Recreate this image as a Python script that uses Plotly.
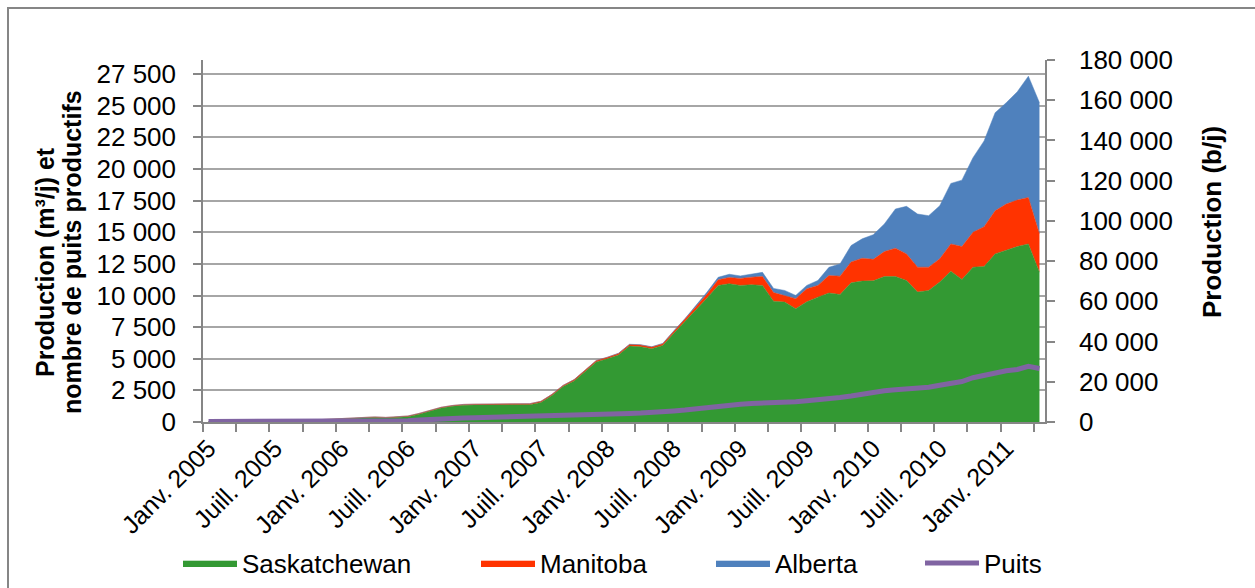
import plotly.graph_objects as go

# ---- categories (monthly, Jan 2005 - Apr 2011) ----
MOIS = ["Janv.", "Févr.", "Mars", "Avr.", "Mai", "Juin",
        "Juill.", "Août", "Sept.", "Oct.", "Nov.", "Déc."]
months = [f"{MOIS[m]} {y}" for y in range(2005, 2012) for m in range(12)][:76]

# ---- series (m3/d) ----
saskatchewan = [30, 30, 35, 40, 45, 50, 60, 70, 90, 130,
                180, 220, 260, 290, 320, 360, 320, 350, 420, 620,
                880, 1100, 1240, 1320, 1340, 1350, 1340, 1330, 1340, 1370,
                1550, 2100, 2800, 3250, 4000, 4750, 5000, 5300, 6000, 5950,
                5800, 6050, 7020, 7910, 8870, 9800, 10800, 10930, 10800, 10850,
                10800, 9550, 9480, 8960, 9500, 9870, 10200, 10080, 11000, 11140,
                11160, 11500, 11500, 11190, 10270, 10400, 11060, 11920, 11270, 12240,
                12290, 13290, 13610, 13870, 14080, 11840]
manitoba = [0, 0, 0, 0, 0, 0, 5, 10, 10, 15,
            20, 25, 30, 35, 40, 45, 45, 50, 55, 60,
            60, 65, 65, 70, 70, 70, 75, 75, 80, 80,
            85, 90, 95, 100, 105, 110, 115, 120, 130, 140,
            130, 140, 160, 200, 250, 320, 440, 500, 550, 600,
            700, 680, 530, 790, 1030, 930, 1380, 1450, 1650, 1810,
            1700, 1975, 2240, 2100, 1970, 1840, 1840, 2160, 2600, 2760,
            3150, 3410, 3620, 3680, 3670, 3030]
alberta = [0, 0, 0, 0, 0, 0, 0, 0, 0, 0,
           0, 0, 0, 0, 0, 0, 0, 0, 0, 0,
           0, 0, 0, 0, 0, 0, 0, 0, 0, 0,
           0, 0, 0, 0, 0, 0, 10, 10, 15, 20,
           20, 25, 30, 60, 100, 150, 200, 250, 200, 250,
           330, 330, 390, 260, 270, 390, 650, 970, 1300, 1530,
           1950, 2185, 3100, 3760, 4200, 4070, 4200, 4780, 5250, 5900,
           6780, 7750, 8010, 8560, 9590, 10370]
puits = [40, 40, 40, 45, 45, 45, 50, 50, 50, 55,
         55, 60, 60, 60, 65, 65, 70, 75, 90, 150,
         210, 250, 290, 310, 330, 350, 370, 380, 400, 410,
         420, 440, 460, 480, 510, 550, 580, 630, 680, 710,
         740, 810, 870, 940, 1050, 1150, 1260, 1330, 1400, 1470,
         1490, 1510, 1520, 1600, 1680, 1740, 1830, 1940, 2050, 2200,
         2350, 2470, 2550, 2600, 2640, 2750, 2900, 3050, 3200, 3500,
         3700, 3950, 4050, 4150, 4400, 4230]

# axis settings
M3_TO_BBL = 6.2898
right_max = 180000
left_max = right_max / M3_TO_BBL
left_dtick = 2500
right_dtick = 20000

GREEN, RED, BLUE, PURPLE = "#339933", "#FF3300", "#4F81BD", "#8064A2"
AXIS = "#868686"
GRID = "#A6A6A6"
FONT = "Liberation Sans, Arial, sans-serif"

x = list(range(len(months)))
total_bbl = [(s + m + a) * M3_TO_BBL for s, m, a in zip(saskatchewan, manitoba, alberta)]

fig = go.Figure()
for name, vals, col, lg in [("Saskatchewan", saskatchewan, GREEN, "legend"),
                            ("Manitoba", manitoba, RED, "legend2"),
                            ("Alberta", alberta, BLUE, "legend3")]:
    fig.add_trace(go.Scatter(x=x, y=vals, name=name, stackgroup="prod",
                             mode="lines", line=dict(width=0.5, color=col),
                             fillcolor=col, legend=lg, hoverinfo="skip"))
fig.add_trace(go.Scatter(x=x, y=puits, name="Puits", mode="lines",
                         line=dict(width=5, color=PURPLE), legend="legend4"))
# same total production expressed in barrels/day, carried by the right axis (invisible)
fig.add_trace(go.Scatter(x=x, y=total_bbl, yaxis="y2", mode="lines",
                         line=dict(width=0, color="rgba(0,0,0,0)"),
                         showlegend=False, hoverinfo="skip"))

W0, W1, T0, T1 = 203, 1045, 60, 422
FW, FH = 1255, 588
PW, PH = W1 - W0, T1 - T0


def px(v):
    return (v - W0) / PW


def py(v):
    return (T1 - v) / PH


leg_common = dict(orientation="h", yanchor="middle", yref="container", xref="container",
                  y=(FH - 563) / FH, xanchor="left",
                  font=dict(size=26, family=FONT, color="black"),
                  bgcolor="rgba(0,0,0,0)", itemwidth=54)
legends = {}
for key, xpix in [("legend", 178), ("legend2", 476), ("legend3", 711), ("legend4", 920)]:
    legends[key] = dict(leg_common, x=xpix / FW)

title_font = dict(family=FONT, size=25, color="black")
annotations = [
    dict(text="<b>Production (m³/j) et</b>", textangle=-90, xref="paper", yref="paper",
         x=px(45), y=py(262), xanchor="center", yanchor="middle", showarrow=False,
         font=title_font),
    dict(text="<b>nombre de puits productifs</b>", textangle=-90, xref="paper", yref="paper",
         x=px(72), y=py(252), xanchor="center", yanchor="middle", showarrow=False,
         font=title_font),
    dict(text="<b>Production (b/j)</b>", textangle=-90, xref="paper", yref="paper",
         x=px(1212), y=py(222), xanchor="center", yanchor="middle", showarrow=False,
         font=dict(family=FONT, size=26, color="black")),
]

fig.update_layout(
    width=FW, height=FH, autosize=False,
    margin=dict(l=W0, r=FW - W1, t=T0, b=FH - T1, pad=0),
    paper_bgcolor="white", plot_bgcolor="white",
    separators=", ",
    font=dict(family=FONT, size=26, color="black"),
    showlegend=True,
    **legends,
    annotations=annotations,
    xaxis=dict(
        range=[-0.5, len(months) - 0.5], automargin=False,
        tickmode="array",
        tickvals=[i for i in x if i % 6 == 0],
        ticktext=[months[i] for i in x if i % 6 == 0],
        tickangle=-45, ticks="", showgrid=False, zeroline=False,
        showline=True, linecolor=AXIS, linewidth=1.5,
        tickfont=dict(size=25),
        minor=dict(tickmode="array",
                   tickvals=[i - 0.5 for i in range(0, len(months) + 1, 3)],
                   ticks="outside", ticklen=8, tickcolor=AXIS, tickwidth=1.5,
                   showgrid=False),
    ),
    yaxis=dict(
        range=[0, left_max], tickmode="linear", tick0=0, dtick=left_dtick,
        automargin=False,
        tickformat=",", ticks="outside", ticklen=8, tickcolor=AXIS, tickwidth=1.5,
        showline=True, linecolor=AXIS, linewidth=1.5,
        showgrid=True, gridcolor=GRID, gridwidth=1.5, zeroline=False,
        ticklabelstandoff=12,
    ),
    yaxis2=dict(
        overlaying="y", side="right", anchor="x", automargin=False,
        range=[0, right_max], tickmode="linear", tick0=0, dtick=right_dtick,
        tickformat=",", ticks="outside", ticklen=8, tickcolor=AXIS, tickwidth=1.5,
        showline=True, linecolor=AXIS, linewidth=1.5,
        showgrid=False, zeroline=False, ticklabelstandoff=19,
    ),
    shapes=[dict(type="rect", xref="paper", yref="paper",
                 x0=px(8), x1=px(1262), y0=py(600), y1=py(8),
                 line=dict(color=AXIS, width=2), fillcolor="rgba(0,0,0,0)", layer="below")],
)

fig.write_html("out.html", config={"displayModeBar": False},
               post_script="document.body.style.margin='0';")
